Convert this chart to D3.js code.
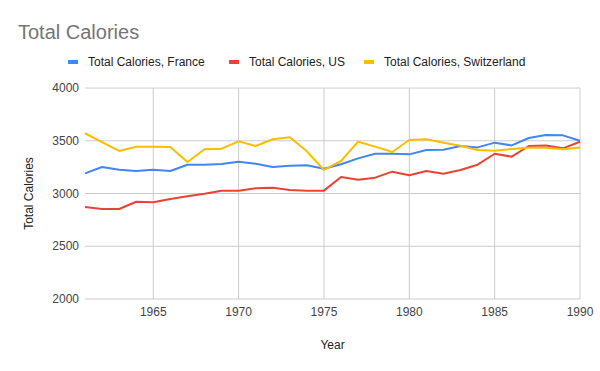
<!DOCTYPE html>
<html>
<head>
<meta charset="utf-8">
<script src="https://cdn.jsdelivr.net/npm/d3@7"></script>
<style>
  body { margin: 0; background: #fff; }
  text { font-family: Arial, "Liberation Sans", sans-serif; }
</style>
</head>
<body>
<div id="chart"></div>
<script>
// data
const years = d3.range(1961, 1991);
const france = [3191, 3251, 3226, 3213, 3226, 3213, 3273, 3273, 3280, 3302,
  3283, 3251, 3264, 3267, 3235, 3277, 3333, 3377, 3377, 3371,
  3412, 3415, 3450, 3437, 3482, 3456, 3526, 3554, 3551, 3500];
const us = [2872, 2853, 2853, 2922, 2918, 2948, 2973, 2998, 3027, 3027,
  3049, 3055, 3033, 3027, 3027, 3156, 3131, 3150, 3207, 3173,
  3213, 3188, 3223, 3273, 3377, 3349, 3450, 3456, 3428, 3491];
const swiss = [3571, 3486, 3403, 3444, 3444, 3441, 3298, 3419, 3425, 3494,
  3450, 3514, 3533, 3400, 3223, 3308, 3491, 3444, 3393, 3507,
  3514, 3482, 3453, 3412, 3406, 3422, 3434, 3434, 3419, 3437];
const seriesNames = ["Total Calories, France", "Total Calories, US", "Total Calories, Switzerland"];
const yTicks = [2000, 2500, 3000, 3500, 4000];
const xTicks = [1965, 1970, 1975, 1980, 1985, 1990];

const colors = ["#4285F4", "#EA4335", "#FBBC04"];
const series = [france, us, swiss];

const width = 600, height = 371;
const margin = { top: 88, right: 20, bottom: 72, left: 85 };

const svg = d3.select("#chart").append("svg")
  .attr("width", width)
  .attr("height", height);

const x = d3.scaleLinear().domain([1961, 1990]).range([margin.left, width - margin.right]);
const y = d3.scaleLinear().domain([2000, 4000]).range([height - margin.bottom, margin.top]);

// title
svg.append("text")
  .attr("x", 18).attr("y", 39)
  .style("font-size", "20px")
  .style("fill", "#757575")
  .text("Total Calories");

// gridlines
svg.append("g").selectAll("line.h")
  .data(yTicks).enter().append("line")
  .attr("x1", margin.left).attr("x2", width - margin.right)
  .attr("y1", d => y(d)).attr("y2", d => y(d))
  .style("stroke", "#cccccc").style("stroke-width", 1);

svg.append("g").selectAll("line.v")
  .data(xTicks).enter().append("line")
  .attr("x1", d => x(d)).attr("x2", d => x(d))
  .attr("y1", margin.top).attr("y2", height - margin.bottom)
  .style("stroke", "#cccccc").style("stroke-width", 1);

// y tick labels
svg.append("g").selectAll("text")
  .data(yTicks).enter().append("text")
  .attr("x", margin.left - 6).attr("y", d => y(d) + 4)
  .attr("text-anchor", "end")
  .style("font-size", "12px").style("fill", "#444")
  .text(d => d);

// x tick labels
svg.append("g").selectAll("text")
  .data(xTicks).enter().append("text")
  .attr("x", d => x(d)).attr("y", height - margin.bottom + 17)
  .attr("text-anchor", "middle")
  .style("font-size", "12px").style("fill", "#444")
  .text(d => d);

// axis titles
svg.append("text")
  .attr("x", (margin.left + width - margin.right) / 2).attr("y", 349)
  .attr("text-anchor", "middle")
  .style("font-size", "12px").style("fill", "#222")
  .text("Year");

svg.append("text")
  .attr("transform", `translate(33, ${(margin.top + height - margin.bottom) / 2}) rotate(-90)`)
  .attr("text-anchor", "middle")
  .style("font-size", "12px").style("fill", "#222")
  .text("Total Calories");

// lines
const line = d3.line()
  .x((d, i) => x(years[i]))
  .y(d => y(d));

series.forEach((s, k) => {
  svg.append("path")
    .datum(s)
    .attr("d", line)
    .style("fill", "none")
    .style("stroke", colors[k])
    .style("stroke-width", 2)
    .style("stroke-linejoin", "round");
});

// legend
const legendX = [68, 229, 364];
const legend = svg.append("g").selectAll("g")
  .data(seriesNames).enter().append("g")
  .attr("transform", (d, i) => `translate(${legendX[i]}, 62)`);

legend.append("rect")
  .attr("x", 0).attr("y", -2)
  .attr("width", 10).attr("height", 4)
  .style("fill", (d, i) => colors[i]);

legend.append("text")
  .attr("x", 20).attr("y", 4)
  .style("font-size", "12px").style("fill", "#222")
  .text(d => d);
</script>
</body>
</html>
